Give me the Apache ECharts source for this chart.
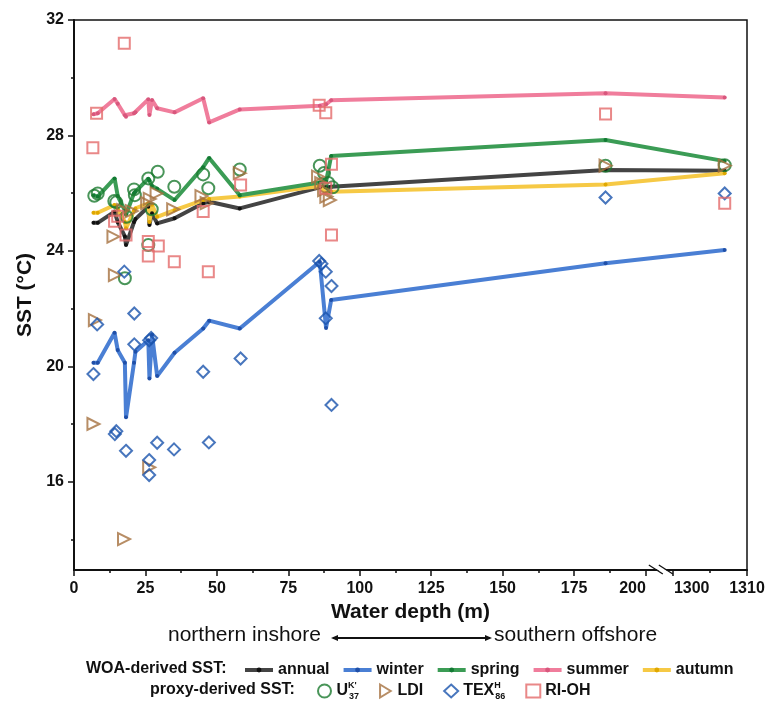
<!DOCTYPE html>
<html>
<head>
<meta charset="utf-8">
<script src="https://cdn.jsdelivr.net/npm/echarts@6/dist/echarts.min.js"></script>
<style>html,body{margin:0;padding:0;background:#fff;}#c{width:769px;height:706px;}</style>
</head>
<body>
<div id="c"></div>
<script>
// ---- data ----
const stationDepths = [6.8, 8.3, 14.2, 15.3, 17.8, 18.2, 21.0, 21.5, 26.0, 26.4, 27.3, 29.1, 35.2, 45.2, 47.3, 58.0, 86.0, 88.2, 90.0, 186.0, 1307];
const annualSST = [24.97, 24.97, 25.36, 25.0, 24.5, 24.2, 25.0, 25.1, 25.53, 24.9, 25.3, 24.95, 25.13, 25.65, 25.7, 25.47, 26.2, 26.2, 26.22, 26.8, 26.78];
const winterSST = [20.12, 20.12, 21.16, 20.56, 20.12, 18.23, 20.12, 20.5, 20.9, 19.58, 21.1, 19.66, 20.47, 21.31, 21.58, 21.31, 23.62, 21.33, 22.3, 23.57, 24.03];
const springSST = [25.93, 25.88, 26.51, 25.9, 25.4, 25.25, 26.0, 26.05, 26.5, 26.45, 26.25, 26.15, 25.76, 26.9, 27.22, 25.93, 26.37, 26.4, 27.29, 27.84, 27.11];
const summerSST = [28.73, 28.77, 29.26, 29.1, 28.7, 28.65, 28.77, 28.8, 29.25, 28.71, 29.23, 28.94, 28.8, 29.29, 28.45, 28.9, 29.03, 29.08, 29.22, 29.46, 29.31];
const autumnSST = [25.32, 25.32, 25.59, 25.45, 25.0, 24.78, 25.4, 25.47, 25.65, 25.0, 25.6, 25.18, 25.41, 25.76, 25.8, 25.88, 26.25, 26.0, 26.05, 26.3, 26.69];

const u37Points = [[7.1,25.91],[8.3,25.99],[14.1,25.73],[14.8,25.68],[18.4,25.18],[17.8,23.05],[21.0,26.13],[21.3,25.93],[26.0,26.51],[26.0,24.2],[27.2,25.44],[29.3,26.74],[35.1,26.22],[45.2,26.65],[47.0,26.17],[58.0,26.82],[86.0,26.95],[87.5,26.7],[89.0,26.35],[90.5,26.2],[186,26.95],[1307,26.97]];
const ldiPoints = [[6.8,18.0],[7.3,21.6],[13.8,24.49],[14.3,23.16],[17.2,25.41],[20.2,25.38],[25.6,25.65],[26.5,25.8],[26.3,16.5],[28.9,25.99],[34.7,25.44],[44.6,25.9],[46.4,25.65],[58.0,26.69],[17.5,14.01],[85.4,26.57],[86.5,26.35],[87.5,26.1],[88.3,25.88],[89.5,25.76],[186,26.95],[1307,26.95]];
const texPoints = [[6.8,19.73],[8.1,21.45],[17.6,23.28],[21.1,21.83],[21.1,20.76],[26.3,20.9],[27.0,20.98],[45.2,19.81],[58.3,20.27],[14.3,17.65],[14.8,17.75],[18.2,17.07],[29.1,17.35],[26.3,16.75],[26.3,16.23],[35.0,17.12],[47.2,17.36],[85.8,23.65],[86.6,23.55],[88.1,23.28],[90.1,22.78],[88.1,21.66],[90.1,18.66],[186,25.85],[1307,25.99]];
const riohPoints = [[17.6,31.19],[7.9,28.77],[6.6,27.57],[58.3,26.28],[45.2,25.36],[14.2,25.03],[15.3,25.2],[18.2,24.55],[26.0,24.32],[29.5,24.17],[26.0,23.82],[35.1,23.62],[47.0,23.28],[85.8,29.05],[88.1,28.79],[90.1,27.0],[88.1,26.17],[90.1,24.55],[186,28.74],[1307,25.65]];

const xMajorTicks = [0, 25, 50, 75, 100, 125, 150, 175, 200, 1300, 1310];
const xMinorTicks = [12.5, 37.5, 62.5, 87.5, 112.5, 137.5, 162.5, 187.5, 1305];
const yMajorTicks = [16, 20, 24, 28, 32];
const yMinorTicks = [14, 18, 22, 26, 30];

// ---- broken depth axis: 0-205 m linear, 1300-1310 m stretched ----
const BREAK_AT = 209.5, DEEP_SCALE = 2.6;
function toAxis(d) { return d <= 205 ? d : BREAK_AT + (d - 1300) * DEEP_SCALE; }
function fromAxis(v) { return v <= 205 ? Math.round(v) : Math.round(1300 + (v - BREAK_AT) / DEEP_SCALE); }

const FONT = 'Liberation Sans, Arial, sans-serif';
const chart = echarts.init(document.getElementById('c'), null, {renderer: 'canvas'});

function lineSeries(name, vals, lineColor, dotColor, z) {
  return {
    name: name, type: 'line', z: z,
    data: stationDepths.map((d, i) => [toAxis(d), vals[i]]),
    symbol: 'circle', symbolSize: 4, showSymbol: true,
    lineStyle: {color: lineColor, width: 4},
    itemStyle: {color: dotColor},
    emphasis: {disabled: true}
  };
}
function scatterSeries(name, pts, symbol, color, size, rot) {
  return {
    name: name, type: 'scatter', z: 5,
    data: pts.map(p => [toAxis(p[0]), p[1]]),
    symbol: symbol, symbolSize: size, symbolRotate: rot || 0,
    itemStyle: {color: 'rgba(255,255,255,0)', borderColor: color, borderWidth: 2},
    emphasis: {disabled: true}
  };
}

const labelRich = {
  n: {fontFamily: FONT, fontWeight: 'bold', fontSize: 16, color: '#111'},
  l: {fontFamily: FONT, fontWeight: 'bold', fontSize: 16, color: '#111', padding: [0, 26, 0, 0]},
  r: {fontFamily: FONT, fontWeight: 'bold', fontSize: 16, color: '#111', padding: [0, 0, 0, 38]}
};
function xLabel(v) {
  const d = fromAxis(v);
  if (d === 200) return '{l|200}';
  if (d === 1300) return '{r|1300}';
  return '{n|' + d + '}';
}

const option = {
  animation: false,
  backgroundColor: '#fff',
  grid: {left: 74, top: 20, right: 22, bottom: 136, show: true, borderColor: '#111', borderWidth: 1.5, backgroundColor: 'transparent'},
  xAxis: [
    {
      type: 'value', min: 0, max: 235.5,
      name: 'Water depth (m)', nameLocation: 'middle', nameGap: 31,
      nameTextStyle: {fontFamily: FONT, fontWeight: 'bold', fontSize: 21, color: '#111'},
      axisLine: {show: true, lineStyle: {color: '#111', width: 2}},
      axisTick: {show: true, length: 6, lineStyle: {color: '#111', width: 1.5}, customValues: xMajorTicks.map(toAxis)},
      axisLabel: {margin: 11, customValues: xMajorTicks.map(toAxis), formatter: xLabel, rich: labelRich,
                  fontFamily: FONT, fontWeight: 'bold', fontSize: 16, color: '#111'},
      splitLine: {show: false}
    },
    {
      type: 'value', min: 0, max: 235.5, position: 'bottom',
      axisLine: {show: false},
      axisTick: {show: true, length: 3, lineStyle: {color: '#111', width: 1.5}, customValues: xMinorTicks.map(toAxis)},
      axisLabel: {show: false, customValues: xMinorTicks.map(toAxis)},
      splitLine: {show: false}
    }
  ],
  yAxis: [
    {
      type: 'value', min: 12.94, max: 32,
      name: 'SST (°C)', nameLocation: 'middle', nameGap: 38, nameRotate: 90,
      nameTextStyle: {fontFamily: FONT, fontWeight: 'bold', fontSize: 21, color: '#111'},
      axisLine: {show: true, lineStyle: {color: '#111', width: 2}},
      axisTick: {show: true, length: 6, lineStyle: {color: '#111', width: 1.5}, customValues: yMajorTicks},
      axisLabel: {margin: 10, customValues: yMajorTicks, fontFamily: FONT, fontWeight: 'bold', fontSize: 16, color: '#111'},
      splitLine: {show: false}
    },
    {
      type: 'value', min: 12.94, max: 32, position: 'left',
      axisLine: {show: false},
      axisTick: {show: true, length: 3, lineStyle: {color: '#111', width: 1.5}, customValues: yMinorTicks},
      axisLabel: {show: false, customValues: yMinorTicks},
      splitLine: {show: false}
    }
  ],
  legend: [
    {
      data: ['annual', 'winter', 'spring', 'summer', 'autumn'],
      left: 238, top: 657, itemWidth: 28, itemHeight: 6, itemGap: 12,
      lineStyle: {width: 4},
      textStyle: {fontFamily: FONT, fontWeight: 'bold', fontSize: 16, color: '#111'},
      selectedMode: false
    },
    {
      data: ['U37', {name: 'LDI', icon: 'path://M0,0 L9,5.5 L0,11 Z'}, 'TEX86', 'RI-OH'],
      left: 312, top: 676, itemWidth: 14, itemHeight: 13, itemGap: 20,
      selectedMode: false,
      formatter: function (name) {
        if (name === 'U37') return '{b|U}{sup|K\'}{sub|37}';
        if (name === 'TEX86') return '{b|TEX}{sup|H}{sub|86}';
        return '{b|' + name + '}';
      },
      textStyle: {
        fontFamily: FONT, fontWeight: 'bold', fontSize: 16, color: '#111',
        rich: {
          b: {fontFamily: FONT, fontWeight: 'bold', fontSize: 16, color: '#111', lineHeight: 20},
          sup: {fontFamily: FONT, fontSize: 9, color: '#111', verticalAlign: 'top', lineHeight: 10, width: 1},
          sub: {fontFamily: FONT, fontSize: 9, color: '#111', verticalAlign: 'bottom', lineHeight: 10}
        }
      }
    }
  ],
  series: [
    lineSeries('annual', annualSST, '#444444', '#111111', 2),
    lineSeries('autumn', autumnSST, '#f6c945', '#e0a800', 2),
    lineSeries('spring', springSST, '#3b9c55', '#127a33', 3),
    lineSeries('winter', winterSST, '#4a7fd4', '#1f4fa8', 2),
    lineSeries('summer', summerSST, '#f07d9c', '#d8577d', 2),
    scatterSeries('U37', u37Points, 'circle', '#1c7a30', 12),
    scatterSeries('LDI', ldiPoints, 'triangle', '#a5713f', 12, -90),
    scatterSeries('TEX86', texPoints, 'diamond', '#1a54ad', 12),
    scatterSeries('RI-OH', riohPoints, 'rect', '#e36a6a', 11)
  ]
};
chart.setOption(option);

// decorations: axis break marks, direction arrow, legend titles
const bx = chart.convertToPixel({xAxisIndex: 0}, 205);
const by = chart.convertToPixel({yAxisIndex: 0}, 12.94);
chart.setOption({
  graphic: [
    {type: 'polygon', shape: {points: [[bx - 8, by - 4], [bx, by - 4], [bx + 12, by + 4], [bx + 4, by + 4]]}, style: {fill: '#fff'}, z: 100},
    {type: 'line', shape: {x1: bx - 11, y1: by - 5, x2: bx + 3, y2: by + 4}, style: {stroke: '#111', lineWidth: 1.3}, z: 101},
    {type: 'line', shape: {x1: bx - 1, y1: by - 5, x2: bx + 13, y2: by + 4}, style: {stroke: '#111', lineWidth: 1.3}, z: 101},
    {type: 'text', left: 168, top: 625, style: {text: 'northern inshore', font: '21px ' + FONT, fill: '#111'}},
    {type: 'line', shape: {x1: 333, y1: 638, x2: 490, y2: 638}, style: {stroke: '#111', lineWidth: 2}},
    {type: 'polygon', shape: {points: [[331, 638], [338, 635], [338, 641]]}, style: {fill: '#111'}},
    {type: 'polygon', shape: {points: [[492, 638], [485, 635], [485, 641]]}, style: {fill: '#111'}},
    {type: 'text', left: 494, top: 625, style: {text: 'southern offshore', font: '21px ' + FONT, fill: '#111'}},
    {type: 'text', left: 86, top: 661, style: {text: 'WOA-derived SST:', font: 'bold 16px ' + FONT, fill: '#111'}},
    {type: 'text', left: 150, top: 682, style: {text: 'proxy-derived SST:', font: 'bold 16px ' + FONT, fill: '#111'}}
  ]
});
</script>
</body>
</html>
